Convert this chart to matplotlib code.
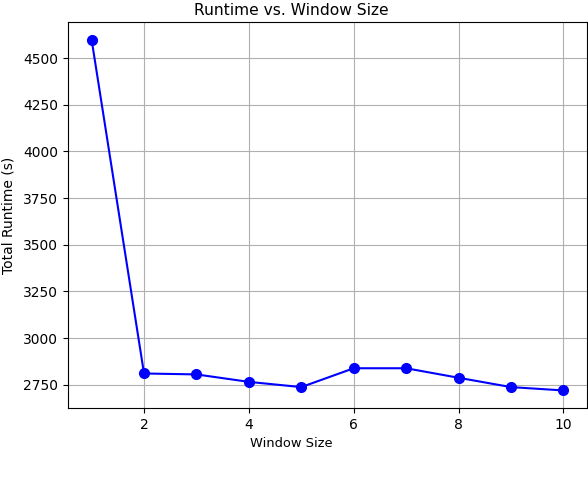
import numpy as np
from matplotlib import pyplot as plt

# 윈도우 크기별 총 실행 시간
window_size = [1, 2, 3, 4, 5, 6, 7, 8, 9, 10]
runtime = [4600, 2810, 2805, 2765, 2737, 2838, 2838, 2787, 2737, 2719]

fig = plt.figure(figsize=(5.88, 4.82), dpi=100)
ax = fig.add_axes([68 / 588, 74 / 482, 519 / 588, 386 / 482])

ax.plot(window_size, runtime, 'b-o', linewidth=1.5, markersize=7)

# 제목, 축 이름 (원본처럼 약간 왼쪽으로)
ax.set_title("Runtime vs. Window Size", x=0.43, pad=5, fontsize=11.2)
ax.set_xlabel("Window Size", x=0.43, fontsize=9.4)
ax.set_ylabel("Total Runtime (s)", labelpad=5.5)
ax.grid(True)

fig.savefig("out.png", dpi=100)
